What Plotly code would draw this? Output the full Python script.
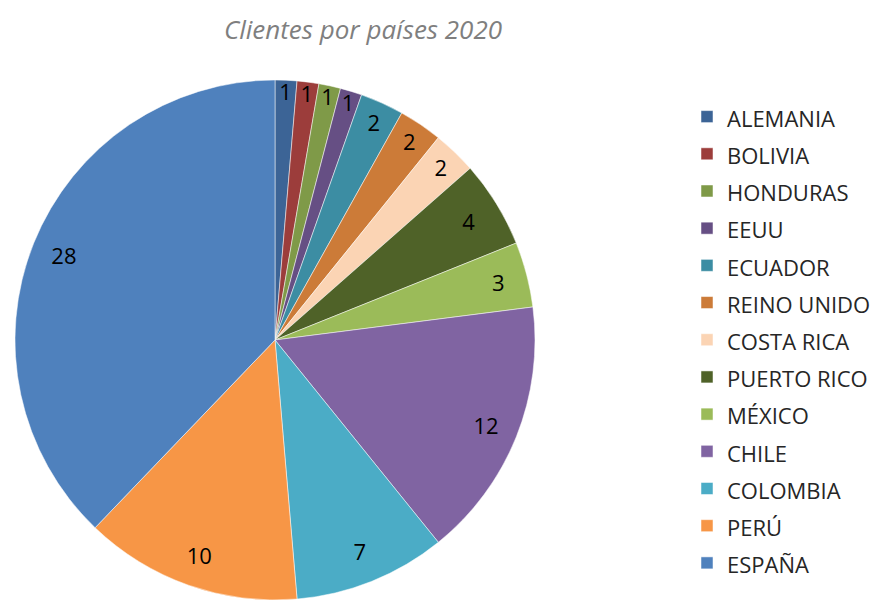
import plotly.graph_objects as go

countries = ["ALEMANIA", "BOLIVIA", "HONDURAS", "EEUU", "ECUADOR", "REINO UNIDO",
             "COSTA RICA", "PUERTO RICO", "MÉXICO", "CHILE", "COLOMBIA", "PERÚ", "ESPAÑA"]
clients = [1, 1, 1, 1, 2, 2, 2, 4, 3, 12, 7, 10, 28]
colors = ["#3C6496", "#9C3D3B", "#7F9A48", "#664F84", "#3C8DA3", "#CC7B38",
          "#FBD4B4", "#4F6228", "#9BBB59", "#8064A2", "#4BACC6", "#F79646", "#4F81BD"]
title_text = "Clientes por países 2020"

W, H = 876, 600
dom = dict(x=[15 / W, 535 / W], y=[0, 520 / H])

legend_labels = ["<span style='font-size:22px'>%s</span>" % c for c in countries]

# main pie (colours + legend)
fig = go.Figure(go.Pie(
    labels=legend_labels,
    values=clients,
    sort=False,
    direction="clockwise",
    rotation=0,
    marker=dict(colors=colors, line=dict(color="white", width=0.5)),
    textinfo="none",
    domain=dom,
    customdata=countries,
    hovertemplate="%{customdata}: %{value}<extra></extra>",
))

# transparent ring overlay used only to place the value labels near the rim
fig.add_trace(go.Pie(
    labels=legend_labels,
    values=clients,
    sort=False,
    direction="clockwise",
    rotation=0,
    hole=0.75,
    marker=dict(colors=["rgba(0,0,0,0)"] * len(clients), line=dict(width=0)),
    textinfo="value",
    textposition="inside",
    insidetextorientation="horizontal",
    textfont=dict(family="Open Sans", size=22, color="black"),
    domain=dom,
    showlegend=False,
    hoverinfo="skip",
))

fig.update_layout(
    width=W, height=H,
    margin=dict(l=0, r=0, t=0, b=0, autoexpand=False),
    paper_bgcolor="white",
    title=dict(text="<i>" + title_text + "</i>", x=363 / W, xanchor="center",
               y=1 - 30 / H, yanchor="middle",
               font=dict(family="Open Sans", size=26, color="#7F7F7F")),
    legend=dict(x=687 / W, xanchor="left", y=1 - 93 / H, yanchor="top",
                font=dict(family="Open Sans", size=26.3, color="#262626"),
                itemwidth=30, tracegroupgap=0),
    showlegend=True,
    uniformtext=dict(minsize=22, mode="show"),
)

fig.write_html("out.html",
               config={"displayModeBar": False},
               post_script="document.body.style.margin='0';document.body.style.overflow='hidden';")
